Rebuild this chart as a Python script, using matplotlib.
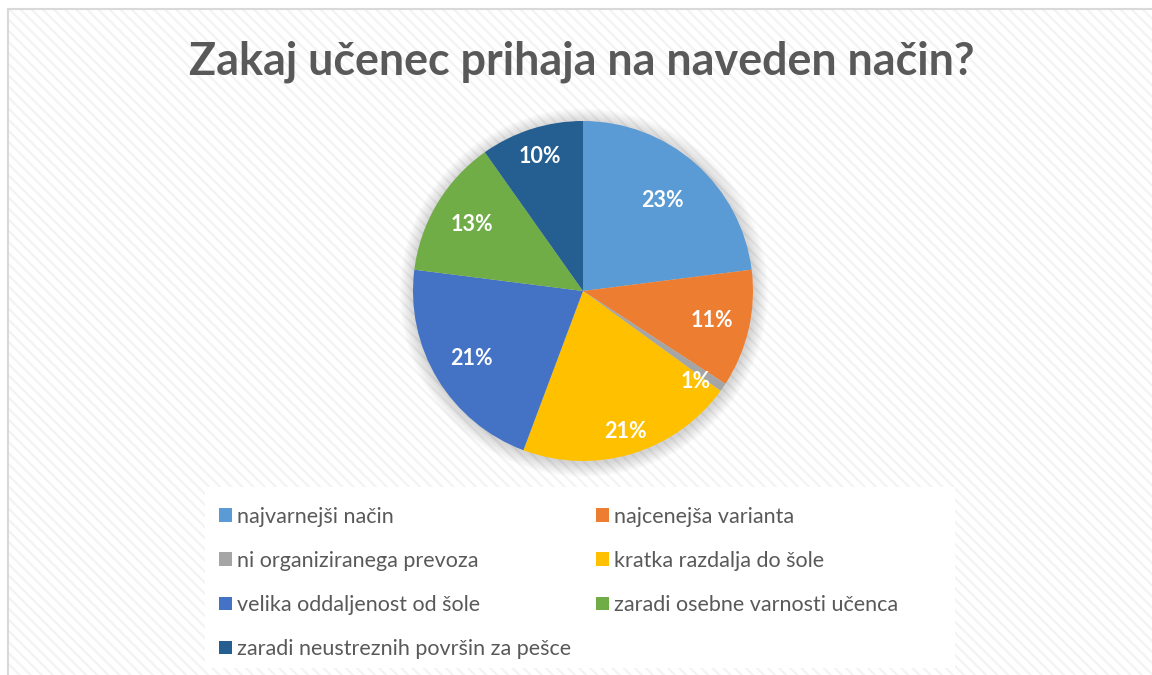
"""Pie chart: Zakaj učenec prihaja na naveden način?"""

import matplotlib
matplotlib.use("Agg")
import matplotlib.pyplot as plt
from matplotlib.patches import Rectangle, Circle, Patch
import numpy as np

plt.rcParams["font.family"] = ["Lato", "DejaVu Sans"]
plt.rcParams["hatch.linewidth"] = 1.6

# ---------------------------------------------------------------------------
# Data
# ---------------------------------------------------------------------------
TITLE = "Zakaj učenec prihaja na naveden način?"

categories = [
    "najvarnejši način",
    "najcenejša varianta",
    "ni organiziranega prevoza",
    "kratka razdalja do šole",
    "velika oddaljenost od šole",
    "zaradi osebne varnosti učenca",
    "zaradi neustreznih površin za pešce",
]
shares = [23.0, 11.2, 0.8, 20.7, 21.3, 13.2, 9.8]
pct_labels = ["23%", "11%", "1%", "21%", "21%", "13%", "10%"]

colors = ["#5B9BD5", "#ED7D31", "#A5A5A5", "#FFC000",
          "#4472C4", "#70AD47", "#255E91"]

# label distance from centre (fraction of radius), Excel "best fit"-like
label_r = [0.71, 0.78, 0.85, 0.86, 0.77, 0.76, 0.83]
label_shift = [0, 0, -4, 0, 0, 0, 0]   # degrees, nudge for the tiny slice

TEXT_GREY = "#595959"

# ---------------------------------------------------------------------------
# Figure
# ---------------------------------------------------------------------------
W, H = 1152, 675
fig = plt.figure(figsize=(W / 100, H / 100), dpi=100, facecolor="white")

# chart area with faint diagonal stripes
bg = Rectangle((8 / W, 0), 1.0, 1 - 9 / H, transform=fig.transFigure,
               facecolor="white", edgecolor="#f3f3f3", hatch="\\\\\\",
               linewidth=0, zorder=-3)
fig.patches.append(bg)
fig.add_artist(plt.Line2D([8 / W, 8 / W], [0, 1 - 9 / H], color="#d9d9d9",
                          lw=1.5, transform=fig.transFigure, zorder=-2))
fig.add_artist(plt.Line2D([8 / W, 1], [1 - 9 / H, 1 - 9 / H], color="#d9d9d9",
                          lw=1.5, transform=fig.transFigure, zorder=-2))

# legend area (white box)
fig.patches.append(Rectangle((205 / W, (H - 668) / H), 750 / W, 181 / H,
                             transform=fig.transFigure, facecolor="white",
                             edgecolor="none", zorder=-1))

fig.text(582 / W, 1 - 62 / H, TITLE, ha="center", va="center",
         fontsize=32.3, fontweight="bold", color=TEXT_GREY)

# pie axes
cx, cy, r = 583, 291, 170
ax = fig.add_axes([(cx - r) / W, (H - cy - r) / H, 2 * r / W, 2 * r / H])
ax.set_zorder(1)
ax.patch.set_visible(False)

# soft shadow
for k in range(14):
    ax.add_patch(Circle((0.005, -0.01), 1.0 + 0.006 * (14 - k), color="black",
                        alpha=0.011, lw=0, zorder=0, clip_on=False))

wedges, _ = ax.pie(shares, colors=colors, startangle=90, counterclock=False,
                   radius=1.0, wedgeprops=dict(linewidth=0))
for w in wedges:
    w.set_zorder(2)

for w, lab, d, sh in zip(wedges, pct_labels, label_r, label_shift):
    mid = np.deg2rad((w.theta1 + w.theta2) / 2 + sh)
    ax.text(d * np.cos(mid), d * np.sin(mid), lab, ha="center", va="center",
            fontsize=15.5, fontweight="bold", color="white", zorder=3)

ax.set_xlim(-1, 1)
ax.set_ylim(-1, 1)
ax.set_aspect("equal")
ax.axis("off")

# legend, filled row by row
handles = [Patch(facecolor=c, edgecolor="none", label=l)
           for c, l in zip(colors, categories)]
order = [0, 2, 4, 6, 1, 3, 5]
leg = fig.legend([handles[i] for i in order], [categories[i] for i in order],
                 ncol=2, loc="upper left", bbox_to_anchor=(208 / W, 1 - 496 / H),
                 frameon=False, fontsize=15.5, labelcolor=TEXT_GREY,
                 handlelength=0.6, handleheight=0.6, handletextpad=0.25,
                 columnspacing=1.15, labelspacing=1.12, borderpad=0)
leg.set_zorder(2)

fig.savefig("out.png", dpi=100, facecolor="white")
